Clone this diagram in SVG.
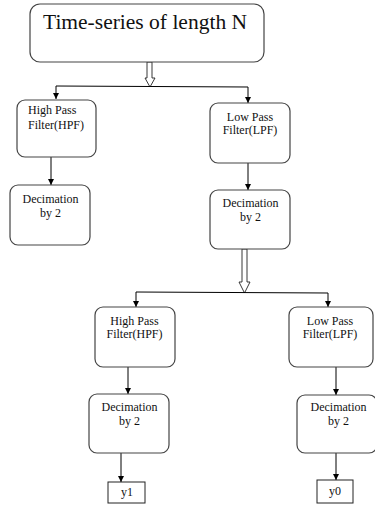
<svg xmlns="http://www.w3.org/2000/svg" width="375" height="505" viewBox="0 0 375 505">
<defs>
<marker id="ah" markerUnits="userSpaceOnUse" markerWidth="8" markerHeight="8" refX="6" refY="3" orient="auto">
<path d="M0,0 L6,3 L0,6 z" fill="#000"/>
</marker>
<style>
.box{fill:#fff;stroke:#444;stroke-width:1.2}
.sq{fill:#fff;stroke:#222;stroke-width:1}
.t{font-family:"Liberation Serif","Times New Roman",serif;font-size:12px;fill:#111;text-anchor:middle}
.title{font-family:"Liberation Serif","Times New Roman",serif;font-size:21.5px;fill:#111}
.c{stroke:#000;stroke-width:1;fill:none}
.ca{stroke:#000;stroke-width:1;fill:none;marker-end:url(#ah)}
.hol{fill:#fff;stroke:#222;stroke-width:0.9}
</style>
</defs>
<rect width="375" height="505" fill="#fff"/>
<g id="connectors">
<polygon class="hol" points="147,62 152,62 152,78 155,78 150,87 145,78 147,78"/>
<path class="c" d="M56,86 L248,87"/>
<path class="ca" d="M56,86 L56,99"/>
<path class="ca" d="M248,87 L248,103"/>
<path class="ca" d="M51,157 L51,185"/>
<path class="ca" d="M248,163 L248,190"/>
<polygon class="hol" points="242,249 247,249 247,282 250,282 244.5,293 239,282 242,282"/>
<path class="c" d="M136,292 L328,293"/>
<path class="ca" d="M136,292 L136,307"/>
<path class="ca" d="M328,293 L328,307"/>
<path class="ca" d="M128,367 L128,394"/>
<path class="ca" d="M336,367 L336,395"/>
<path class="ca" d="M121,453 L121,482"/>
<path class="ca" d="M336,453 L336,480"/>
</g>
<g id="n_title">
<rect class="box" x="30" y="4" width="234" height="58" rx="10"/>
<text class="title" x="43" y="29">Time-series of length N</text>
</g>
<g id="n_hpf1">
<rect class="box" x="17" y="100" width="79" height="57" rx="8"/>
<text class="t" x="28" y="114" style="text-anchor:start">High Pass</text>
<text class="t" x="28" y="129" style="text-anchor:start">Filter(HPF)</text>
</g>
<g id="n_dec1">
<rect class="box" x="10" y="185" width="80" height="60" rx="8"/>
<text class="t" x="50.5" y="203">Decimation</text>
<text class="t" x="50.5" y="217">by 2</text>
</g>
<g id="n_lpf1">
<rect class="box" x="210" y="103" width="80" height="60" rx="8"/>
<text class="t" x="250" y="121">Low Pass</text>
<text class="t" x="250" y="134">Filter(LPF)</text>
</g>
<g id="n_dec2">
<rect class="box" x="210" y="190" width="80" height="59" rx="8"/>
<text class="t" x="250.5" y="207">Decimation</text>
<text class="t" x="250.5" y="221">by 2</text>
</g>
<g id="n_hpf2">
<rect class="box" x="95" y="307" width="80" height="60" rx="8"/>
<text class="t" x="134.5" y="325">High Pass</text>
<text class="t" x="134.5" y="338">Filter(HPF)</text>
</g>
<g id="n_lpf2">
<rect class="box" x="289" y="307" width="84" height="60" rx="8"/>
<text class="t" x="330" y="325">Low Pass</text>
<text class="t" x="330" y="338">Filter(LPF)</text>
</g>
<g id="n_dec3">
<rect class="box" x="89" y="394" width="80" height="59" rx="8"/>
<text class="t" x="129.5" y="411">Decimation</text>
<text class="t" x="129.5" y="425">by 2</text>
</g>
<g id="n_dec4">
<rect class="box" x="297" y="395" width="80" height="58" rx="8"/>
<text class="t" x="338.5" y="411">Decimation</text>
<text class="t" x="338.5" y="425">by 2</text>
</g>
<g id="n_y1">
<rect class="sq" x="108" y="482" width="37" height="21"/>
<text class="t" x="127" y="496">y1</text>
</g>
<g id="n_y0">
<rect class="sq" x="317" y="480" width="36" height="23"/>
<text class="t" x="335" y="495">y0</text>
</g>
</svg>
